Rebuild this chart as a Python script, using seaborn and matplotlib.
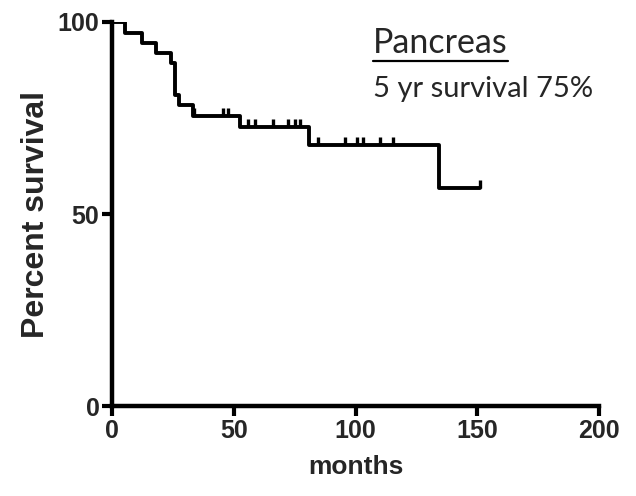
import matplotlib
matplotlib.use("Agg")
import matplotlib.pyplot as plt
import seaborn as sns
import pandas as pd

# Kaplan-Meier curve (months, percent survival)
event_months = [0, 5.3, 12.2, 18.0, 24.1, 25.9, 27.6, 33.4, 52.6, 80.8, 134.4, 151.0]
survival_pct = [100, 97.1, 94.5, 91.9, 89.4, 81.0, 78.4, 75.5, 72.6, 68.0, 56.9, 56.9]

# censored observations (tick marks)
censor_months = [33.7, 45.6, 47.6, 55.9, 58.7, 66.1, 72.3, 75.2, 77.2,
                 84.7, 95.7, 100.5, 103.2, 110.0, 115.5, 151.0]
censor_pct = [75.5, 75.5, 75.5, 72.6, 72.6, 72.6, 72.6, 72.6, 72.6,
              68.0, 68.0, 68.0, 68.0, 68.0, 68.0, 56.9]

x_ticks = [0, 50, 100, 150, 200]
y_ticks = [0, 50, 100]

km_df = pd.DataFrame({"months": event_months, "survival": survival_pct})

sns.set_style("white")
arial = ["Liberation Sans", "DejaVu Sans"]
calibri = ["Lato", "DejaVu Sans"]

fig = plt.figure(figsize=(6.36, 4.96), dpi=100)
ax = fig.add_axes([0.176, 0.181, 0.766, 0.775])

sns.lineplot(data=km_df, x="months", y="survival", drawstyle="steps-post",
             estimator=None, sort=False, color="black", linewidth=2.8, ax=ax)
ax.plot(censor_months, censor_pct, linestyle="none", marker=2,
        markersize=6, markeredgewidth=2.4, color="black")

ax.set_xlim(0, 200)
ax.set_ylim(0, 100)
ax.set_xticks(x_ticks)
ax.set_yticks(y_ticks)
ax.set_xticklabels([str(t) for t in x_ticks], family=arial, fontweight="bold", fontsize=18)
ax.set_yticklabels([str(t) for t in y_ticks], family=arial, fontweight="bold", fontsize=18)
ax.tick_params(direction="out", length=7, width=3, color="black", pad=2, bottom=True, left=True)

for side in ["top", "right"]:
    ax.spines[side].set_visible(False)
for side in ["left", "bottom"]:
    ax.spines[side].set_linewidth(3.2)
    ax.spines[side].set_color("black")

ax.set_xlabel("months", family=arial, fontweight="bold", fontsize=19, labelpad=9)
ax.set_ylabel("Percent survival", family=arial, fontweight="bold", fontsize=23, labelpad=5)

t = ax.text(0.536, 0.919, "Pancreas", transform=ax.transAxes, family=calibri,
            fontsize=24.5, va="baseline", ha="left")
fig.canvas.draw()
bb = t.get_window_extent().transformed(ax.transAxes.inverted())
ax.plot([bb.x0, bb.x1], [0.899, 0.899], transform=ax.transAxes,
        color="black", linewidth=1.6, clip_on=False)
ax.text(0.536, 0.805, "5 yr survival 75%", transform=ax.transAxes, family=calibri,
        fontsize=21, va="baseline", ha="left")

fig.savefig("out.png", dpi=100)
